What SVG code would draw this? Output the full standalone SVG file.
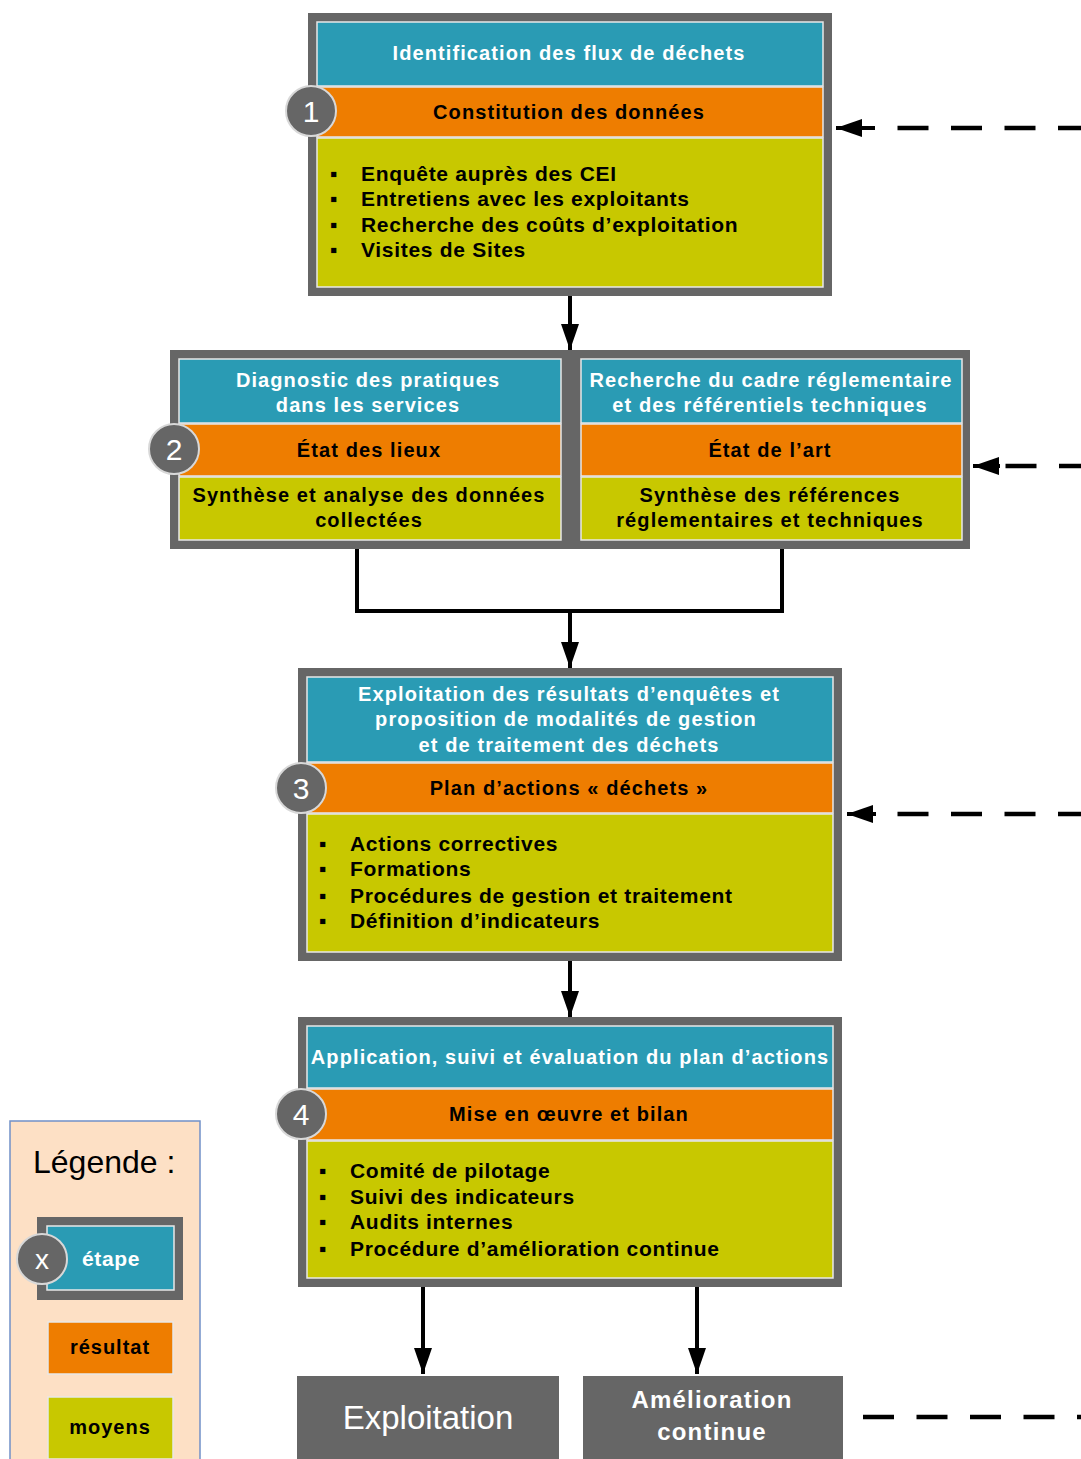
<svg xmlns="http://www.w3.org/2000/svg" width="1081" height="1459" viewBox="0 0 1081 1459">
<defs>
<style>
.frame{fill:#666666}
.blue{fill:#2a9bb4;stroke:#e8e8e8;stroke-width:1.5}
.orange{fill:#ee7d00;stroke:#e8e8e8;stroke-width:1.5}
.yellow{fill:#c8c800;stroke:#e8e8e8;stroke-width:1.5}
.num{fill:#666666;stroke:#d8d8d8;stroke-width:2}
text{font-family:"Liberation Sans",Arial,sans-serif}
.wt{fill:#ffffff;font-size:20px;font-weight:bold;text-anchor:middle;letter-spacing:1.1px}
.bt{fill:#000000;font-size:20px;font-weight:bold;text-anchor:middle;letter-spacing:1.1px}
.li{fill:#000000;font-size:21px;font-weight:bold;letter-spacing:0.7px}
.nt{fill:#ffffff;font-size:30px;text-anchor:middle}
.conn{stroke:#000;stroke-width:4;fill:none}
.dash{stroke:#000;stroke-width:4.5;fill:none;stroke-dasharray:31 22.5;stroke-linecap:butt}
</style>
<marker id="ah" viewBox="0 0 13 9" refX="13" refY="4.5" markerWidth="6.5" markerHeight="4.5" markerUnits="strokeWidth" orient="auto">
<path d="M0,0 L13,4.5 L0,9 z" fill="#000"/>
</marker>
</defs>

<g id="connectors">
<line class="conn" x1="570" y1="296" x2="570" y2="350" marker-end="url(#ah)"/>
<polyline class="conn" points="357,549 357,611 782,611 782,549"/>
<line class="conn" x1="570" y1="609" x2="570" y2="668" marker-end="url(#ah)"/>
<line class="conn" x1="570" y1="961" x2="570" y2="1017" marker-end="url(#ah)"/>
<line class="conn" x1="423" y1="1287" x2="423" y2="1374" marker-end="url(#ah)"/>
<line class="conn" x1="697" y1="1287" x2="697" y2="1374" marker-end="url(#ah)"/>
<line class="dash" x1="1089" y1="128" x2="897" y2="128"/>
<line class="conn" x1="875" y1="128" x2="836" y2="128" marker-end="url(#ah)"/>
<line class="dash" x1="1090" y1="466" x2="1005" y2="466" stroke-dasharray="32 21"/>
<line class="conn" x1="1000" y1="466" x2="973" y2="466" marker-end="url(#ah)"/>
<line class="dash" x1="1089" y1="814" x2="897" y2="814"/>
<line class="conn" x1="876" y1="814" x2="847" y2="814" marker-end="url(#ah)"/>
<line class="dash" x1="863" y1="1417" x2="1081" y2="1417" stroke-dasharray="32 22.5"/>
</g>

<g id="step1">
<rect class="frame" x="308" y="13" width="524" height="283"/>
<rect class="blue" x="317" y="22" width="506" height="64"/>
<rect class="orange" x="317" y="87" width="506" height="50"/>
<rect class="yellow" x="317" y="138" width="506" height="149"/>
<text class="wt" x="569" y="60">Identification des flux de déchets</text>
<text class="bt" x="569" y="119">Constitution des données</text>
<text class="li" x="330" y="181">▪</text><text class="li" x="361" y="181">Enquête auprès des CEI</text>
<text class="li" x="330" y="206">▪</text><text class="li" x="361" y="206">Entretiens avec les exploitants</text>
<text class="li" x="330" y="232">▪</text><text class="li" x="361" y="232">Recherche des coûts d’exploitation</text>
<text class="li" x="330" y="257">▪</text><text class="li" x="361" y="257">Visites de Sites</text>
<circle class="num" cx="311" cy="111" r="25"/>
<text class="nt" x="311" y="122">1</text>
</g>

<g id="step2">
<rect class="frame" x="170" y="350" width="800" height="199"/>
<rect class="blue" x="179" y="359" width="382" height="64"/>
<rect class="orange" x="179" y="424" width="382" height="52"/>
<rect class="yellow" x="179" y="477" width="382" height="63"/>
<rect class="blue" x="581" y="359" width="381" height="64"/>
<rect class="orange" x="581" y="424" width="381" height="52"/>
<rect class="yellow" x="581" y="477" width="381" height="63"/>
<text class="wt" x="368" y="387">Diagnostic des pratiques</text>
<text class="wt" x="368" y="412">dans les services</text>
<text class="bt" x="369" y="457">État des lieux</text>
<text class="bt" x="369" y="502">Synthèse et analyse des données</text>
<text class="bt" x="369" y="527">collectées</text>
<text class="wt" x="771" y="387">Recherche du cadre réglementaire</text>
<text class="wt" x="770" y="412">et des référentiels techniques</text>
<text class="bt" x="770" y="457">État de l’art</text>
<text class="bt" x="770" y="502">Synthèse des références</text>
<text class="bt" x="770" y="527">réglementaires et techniques</text>
<circle class="num" cx="174" cy="449" r="25"/>
<text class="nt" x="174" y="460">2</text>
</g>

<g id="step3">
<rect class="frame" x="298" y="668" width="544" height="293"/>
<rect class="blue" x="307" y="677" width="526" height="85"/>
<rect class="orange" x="307" y="763" width="526" height="50"/>
<rect class="yellow" x="307" y="814" width="526" height="138"/>
<text class="wt" x="569" y="701">Exploitation des résultats d’enquêtes et</text>
<text class="wt" x="566" y="726">proposition de modalités de gestion</text>
<text class="wt" x="569" y="752">et de traitement des déchets</text>
<text class="bt" x="569" y="795">Plan d’actions « déchets »</text>
<text class="li" x="319" y="851">▪</text><text class="li" x="350" y="851">Actions correctives</text>
<text class="li" x="319" y="876">▪</text><text class="li" x="350" y="876">Formations</text>
<text class="li" x="319" y="903">▪</text><text class="li" x="350" y="903">Procédures de gestion et traitement</text>
<text class="li" x="319" y="928">▪</text><text class="li" x="350" y="928">Définition d’indicateurs</text>
<circle class="num" cx="301" cy="788" r="25"/>
<text class="nt" x="301" y="799">3</text>
</g>

<g id="step4">
<rect class="frame" x="298" y="1017" width="544" height="270"/>
<rect class="blue" x="307" y="1026" width="526" height="62"/>
<rect class="orange" x="307" y="1089" width="526" height="51"/>
<rect class="yellow" x="307" y="1141" width="526" height="137"/>
<text class="wt" x="570" y="1064">Application, suivi et évaluation du plan d’actions</text>
<text class="bt" x="569" y="1121">Mise en œuvre et bilan</text>
<text class="li" x="319" y="1178">▪</text><text class="li" x="350" y="1178">Comité de pilotage</text>
<text class="li" x="319" y="1204">▪</text><text class="li" x="350" y="1204">Suivi des indicateurs</text>
<text class="li" x="319" y="1229">▪</text><text class="li" x="350" y="1229">Audits internes</text>
<text class="li" x="319" y="1256">▪</text><text class="li" x="350" y="1256">Procédure d’amélioration continue</text>
<circle class="num" cx="301" cy="1114" r="25"/>
<text class="nt" x="301" y="1125">4</text>
</g>

<g id="exploitation">
<rect class="frame" x="297" y="1376" width="262" height="90"/>
<text x="428" y="1429" fill="#fff" font-size="33" text-anchor="middle">Exploitation</text>
</g>

<g id="amelioration">
<rect class="frame" x="583" y="1376" width="260" height="90"/>
<text x="712" y="1408" fill="#fff" font-size="24" font-weight="bold" text-anchor="middle" letter-spacing="1.2">Amélioration</text>
<text x="712" y="1440" fill="#fff" font-size="24" font-weight="bold" text-anchor="middle" letter-spacing="1.2">continue</text>
</g>

<g id="legend">
<rect x="10" y="1121" width="190" height="345" fill="#fde0c5" stroke="#7090c8" stroke-width="1.5"/>
<text x="33" y="1173" font-size="32" fill="#000">Légende :</text>
<rect class="frame" x="37" y="1217" width="146" height="83"/>
<rect class="blue" x="47" y="1226" width="127" height="64"/>
<text x="111" y="1266" fill="#fff" font-size="21" font-weight="bold" text-anchor="middle" letter-spacing="0.6">étape</text>
<circle class="num" cx="42" cy="1259" r="25"/>
<text x="42" y="1269" fill="#fff" font-size="28" text-anchor="middle">x</text>
<rect class="orange" x="48" y="1322" width="125" height="52"/>
<text x="110" y="1354" fill="#000" font-size="20" font-weight="bold" text-anchor="middle" letter-spacing="1">résultat</text>
<rect class="yellow" x="48" y="1397" width="125" height="62"/>
<text x="110" y="1434" fill="#000" font-size="20" font-weight="bold" text-anchor="middle" letter-spacing="1">moyens</text>
</g>
</svg>
